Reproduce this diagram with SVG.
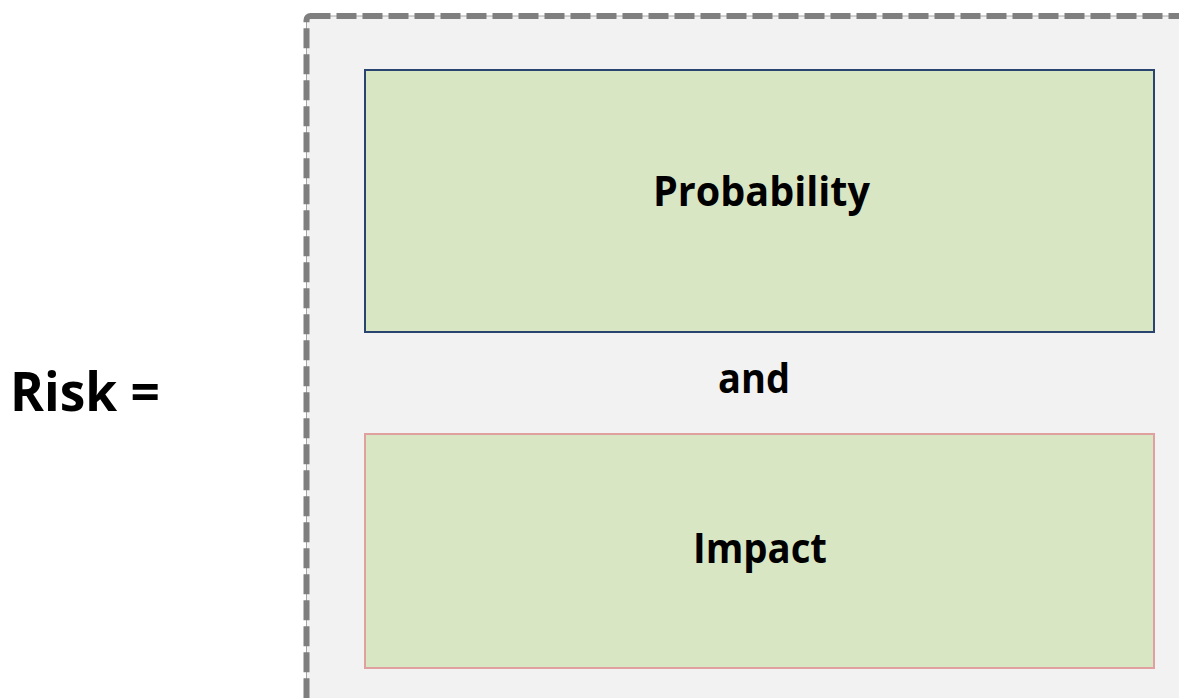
<svg xmlns="http://www.w3.org/2000/svg" width="1179" height="698" viewBox="0 0 1179 698">
<style>
.lbl{font-family:"Open Sans","Liberation Sans",sans-serif;font-weight:bold;fill:#000;text-anchor:middle}
.box{fill:#d9e6c4;stroke-width:2}
</style>
<rect width="1179" height="698" fill="#ffffff"/>
<g id="container">
<rect x="306.5" y="16" width="900" height="720" rx="4" fill="#f2f2f2" stroke="#a6a6a6" stroke-width="1"/>
<rect x="306.5" y="16" width="900" height="720" rx="4" fill="none" stroke="#7f7f7f" stroke-width="6" stroke-dasharray="20 6"/>
</g>
<g id="risk">
<text x="10" y="411" font-family="'Open Sans','Liberation Sans',sans-serif" font-weight="bold" font-size="53" fill="#000" textLength="150" lengthAdjust="spacingAndGlyphs">Risk =</text>
</g>
<g id="probability">
<rect class="box" x="365" y="70" width="789" height="262" stroke="#2a4470"/>
<text class="lbl" x="761.5" y="206" font-size="41" textLength="217" lengthAdjust="spacingAndGlyphs">Probability</text>
</g>
<g id="and">
<text class="lbl" x="754" y="393" font-size="41" textLength="72" lengthAdjust="spacingAndGlyphs">and</text>
</g>
<g id="impact">
<rect class="box" x="365" y="434" width="789" height="234" stroke="#e0a0a0"/>
<text class="lbl" x="760" y="563" font-size="41" textLength="134" lengthAdjust="spacingAndGlyphs">Impact</text>
</g>
<g id="connectors"/>
</svg>
